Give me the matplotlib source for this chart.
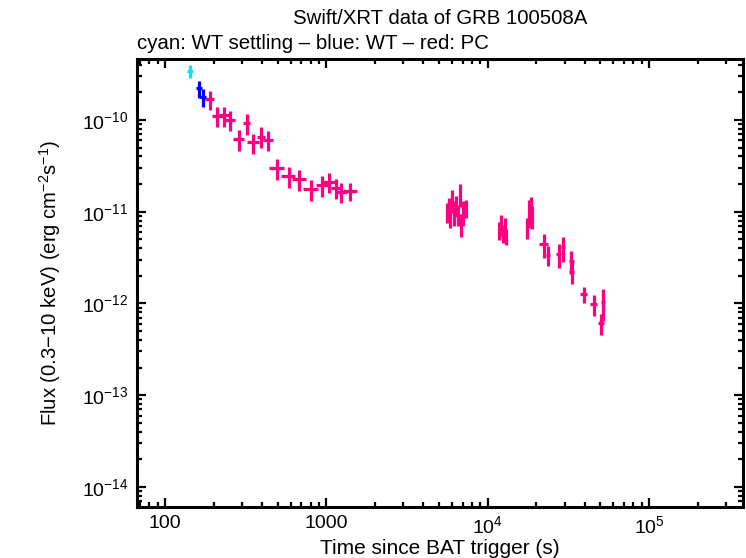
import matplotlib
matplotlib.use("Agg")
import matplotlib.pyplot as plt
from matplotlib.ticker import LogLocator, FixedLocator, FixedFormatter, NullFormatter

plt.rcParams['font.family'] = ['Liberation Sans', 'DejaVu Sans']
plt.rcParams['mathtext.default'] = 'regular'

# WT settling (cyan)
t_wts = [143.5]
dt_wts = [6.3]
f_wts = [3.44e-10]
df_wts = [5.4e-11]

# WT (blue)
t_wt = [162, 172.6]
dt_wt = [7.0, 7.6]
f_wt = [2.21e-10, 1.79e-10]
df_wt = [4.7e-11, 3.9e-11]

# PC (red / pink)
t_pc = [189, 211, 233, 254, 287, 320, 352, 393, 434, 493, 583, 680, 806, 942,
        1041, 1145, 1230, 1400,
        5560, 5730, 5850, 6040, 6220, 6350, 6540, 6730, 6830, 7060, 7310,
        11680, 12020, 12370, 12730, 13000,
        17550, 18060, 18450, 18850,
        22220, 23540, 27620, 29240, 32960, 33240, 39460, 45300, 51750, 50270]
dt_pc = [12.4, 16.6, 17, 18, 23, 17, 28, 24, 32, 52, 58, 64, 87, 80,
         90, 70, 106, 140,
         60, 60, 60, 60, 60, 60, 60, 60, 60, 60, 60,
         120, 120, 120, 120, 120,
         180, 180, 180, 180,
         1300, 700, 1000, 900, 1200, 1200, 2100, 2100, 1500, 2000]
f_pc = [1.69e-10, 1.10e-10, 1.12e-10, 1.0e-10, 6.2e-11, 9.3e-11, 5.7e-11, 6.6e-11,
        6.05e-11, 3.0e-11, 2.45e-11, 2.26e-11, 1.76e-11, 1.96e-11, 2.13e-11,
        1.83e-11, 1.65e-11, 1.68e-11,
        9.94e-12, 1.155e-11, 8.99e-12, 1.343e-11, 9.94e-12, 1.184e-11, 9.45e-12,
        1.56e-11, 7.35e-12, 9.94e-12, 1.10e-11,
        6.33e-12, 7.35e-12, 5.87e-12, 6.82e-12, 5.44e-12,
        6.8e-12, 1.0e-11, 1.1e-11, 9.0e-12,
        4.46e-12, 3.38e-12, 3.44e-12, 4.1e-12, 2.92e-12, 2.22e-12, 1.27e-12,
        9.8e-13, 1.05e-12, 6.1e-13]
df_pc = [4.0e-11, 2.7e-11, 2.8e-11, 2.5e-11, 1.6e-11, 2.4e-11, 1.4e-11, 1.7e-11,
         1.5e-11, 7.7e-12, 6.3e-12, 5.9e-12, 4.6e-12, 5.1e-12, 5.4e-12,
         4.6e-12, 4.1e-12, 3.7e-12,
         2.5e-12, 2.6e-12, 2.4e-12, 3.7e-12, 3.0e-12, 3.0e-12, 2.4e-12,
         4.3e-12, 2.0e-12, 3.0e-12, 2.5e-12,
         1.43e-12, 1.85e-12, 1.33e-12, 1.7e-12, 1.1e-12,
         1.7e-12, 3.3e-12, 3.4e-12, 2.6e-12,
         1.32e-12, 0.8e-12, 1.0e-12, 1.25e-12, 0.8e-12, 0.6e-12, 0.25e-12,
         0.25e-12, 0.4e-12, 0.16e-12]

xticks = [100, 1000, 1e4, 1e5]
xticklabels = ['100', '1000', '$10^4$', '$10^5$']
yticks = [1e-14, 1e-13, 1e-12, 1e-11, 1e-10]
yticklabels = ['$10^{-14}$', '$10^{-13}$', '$10^{-12}$', '$10^{-11}$', '$10^{-10}$']

fig = plt.figure(figsize=(7.46, 5.58), dpi=100)
ax = fig.add_axes([0.1837, 0.0914, 0.8123, 0.8029])

ax.errorbar(t_pc, f_pc, xerr=dt_pc, yerr=df_pc, fmt='none', ecolor='#ff0080',
            elinewidth=2.3, capsize=0)
ax.errorbar(t_wt, f_wt, xerr=dt_wt, yerr=df_wt, fmt='none', ecolor='#0000ff',
            elinewidth=2.3, capsize=0)
ax.errorbar(t_wts, f_wts, xerr=dt_wts, yerr=df_wts, fmt='none', ecolor='#00e8f0',
            elinewidth=2.3, capsize=0)

ax.set_xscale('log')
ax.set_yscale('log')
ax.set_xlim(67.07, 3.826e5)
ax.set_ylim(6.05e-15, 4.62e-10)

ax.xaxis.set_major_locator(FixedLocator(xticks))
ax.xaxis.set_major_formatter(FixedFormatter(xticklabels))
ax.xaxis.set_minor_locator(LogLocator(base=10, subs=range(2, 10), numticks=20))
ax.xaxis.set_minor_formatter(NullFormatter())
ax.yaxis.set_major_locator(FixedLocator(yticks))
ax.yaxis.set_major_formatter(FixedFormatter(yticklabels))
ax.yaxis.set_minor_locator(LogLocator(base=10, subs=range(2, 10), numticks=20))
ax.yaxis.set_minor_formatter(NullFormatter())

for s in ax.spines.values():
    s.set_linewidth(2.2)
ax.tick_params(which='both', direction='in', top=True, right=True, width=1.6,
               labelsize=14, pad=6)
ax.tick_params(which='major', length=6.5)
ax.tick_params(which='minor', length=3.3)

ax.set_xlabel('Time since BAT trigger (s)', fontsize=15, labelpad=1)
ax.set_ylabel('Flux (0.3$-$10 keV) (erg cm$^{-2}$s$^{-1}$)', fontsize=14.6, labelpad=14)

fig.text(0.59, 0.967, 'Swift/XRT data of GRB 100508A', ha='center', va='center', fontsize=14.7)
fig.text(0.1837, 0.922, 'cyan: WT settling \u2013 blue: WT \u2013 red: PC', ha='left',
         va='center', fontsize=14.7)

fig.savefig('out.png', dpi=100)
